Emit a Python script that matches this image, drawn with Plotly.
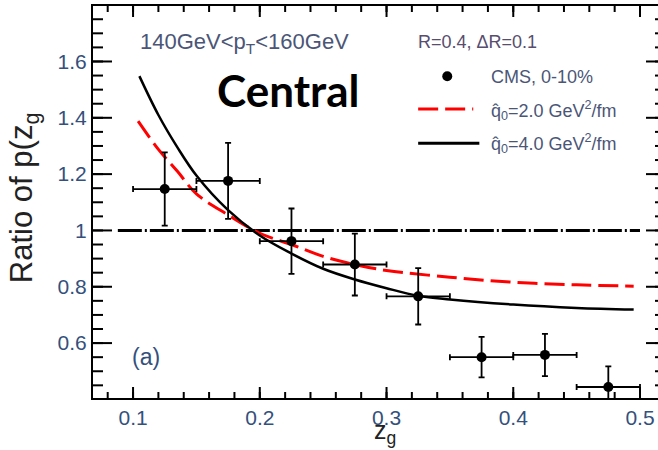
import plotly.graph_objects as go

# CMS measurement, 0-10% centrality
zg_bins = [0.125, 0.175, 0.225, 0.275, 0.325, 0.375, 0.425, 0.475]
ratio_cms = [1.147, 1.176, 0.962, 0.879, 0.766, 0.550, 0.558, 0.444]
ratio_err = [0.130, 0.135, 0.116, 0.110, 0.100, 0.072, 0.075, 0.073]
bin_halfwidth = [0.025] * 8

# model curves
zg_q2 = [0.104, 0.12, 0.135, 0.15, 0.175, 0.2, 0.225, 0.25, 0.275, 0.3, 0.35, 0.4, 0.45, 0.495]
ratio_q2 = [1.388, 1.288, 1.21, 1.13, 1.055, 0.99, 0.95, 0.908, 0.879, 0.858, 0.834, 0.816, 0.807, 0.802]
zg_q4 = [0.105, 0.12, 0.135, 0.15, 0.175, 0.2, 0.225, 0.25, 0.275, 0.3, 0.325, 0.35, 0.4, 0.45, 0.495]
ratio_q4 = [1.548, 1.41, 1.295, 1.195, 1.072, 0.982, 0.918, 0.864, 0.826, 0.795, 0.768, 0.755, 0.737, 0.725, 0.719]

# unity reference
ref_x = [0.088, 0.5]
ref_y = [1.0, 1.0]

# axis ticks
x_major = [0.1, 0.2, 0.3, 0.4, 0.5]
x_minor = [round(0.08 + 0.02 * i, 2) for i in range(22)]
y_major = [0.6, 0.8, 1.0, 1.2, 1.4, 1.6]
y_minor = [round(0.45 + 0.05 * i, 2) for i in range(27)]

X_RANGE = [0.0684, 0.5142]
Y_RANGE = [0.405, 1.797]
PLOT_W, PLOT_H = 565, 392
LABEL = "#34507c"
TEXT = "#4b5677"

fig = go.Figure()

fig.add_trace(go.Scatter(
    x=ref_x, y=ref_y, mode="lines",
    line=dict(color="black", width=3, dash="24px,3px,2px,3px"),
    showlegend=False, hoverinfo="skip"))

fig.add_trace(go.Scatter(
    x=zg_q2, y=ratio_q2, mode="lines", line_shape="spline",
    line=dict(color="#ff0000", width=3, dash="20px,7px"),
    showlegend=False))

fig.add_trace(go.Scatter(
    x=zg_q4, y=ratio_q4, mode="lines", line_shape="spline",
    line=dict(color="black", width=2.5),
    showlegend=False))

fig.add_trace(go.Scatter(
    x=zg_bins, y=ratio_cms, mode="markers",
    marker=dict(color="black", size=10),
    error_y=dict(type="data", array=ratio_err, color="black", thickness=1.8, width=3),
    error_x=dict(type="data", array=bin_halfwidth, color="black", thickness=1.8, width=3),
    showlegend=False))

fig.update_layout(
    width=658, height=450,
    margin=dict(l=93, r=0, t=6, b=52),
    paper_bgcolor="white", plot_bgcolor="white",
    font=dict(family="Liberation Sans, Arial, sans-serif", color=LABEL),
    xaxis=dict(
        range=X_RANGE, tickvals=x_major, ticktext=[f"{v:g}" for v in x_major],
        showgrid=False, zeroline=False, ticks="",
        showline=True, linecolor="black", linewidth=2, mirror=True,
        tickfont=dict(size=21, color=LABEL),
    ),
    yaxis=dict(
        range=Y_RANGE, tickvals=y_major, ticktext=[f"{v:g}" for v in y_major],
        showgrid=False, zeroline=False, ticks="",
        showline=True, linecolor="black", linewidth=2,
        tickfont=dict(size=21, color=LABEL),
    ),
)

# tick marks drawn inward from the frame (bottom/top and left/right)
tick_line = dict(color="black", width=2)


def x_tick(v, length):
    h = length / PLOT_H
    fig.add_shape(type="line", xref="x", yref="paper", x0=v, x1=v, y0=0, y1=h, line=tick_line)
    fig.add_shape(type="line", xref="x", yref="paper", x0=v, x1=v, y0=1 - h, y1=1, line=tick_line)


def y_tick(v, left_len, right_len):
    fig.add_shape(type="line", xref="paper", yref="y", x0=0, x1=left_len / PLOT_W,
                  y0=v, y1=v, line=tick_line)
    fig.add_shape(type="line", xref="paper", yref="y", x0=1 - right_len / PLOT_W, x1=1,
                  y0=v, y1=v, line=tick_line)


for v in x_minor:
    x_tick(v, 6)
for v in x_major:
    x_tick(v, 11)
for v in y_minor:
    y_tick(v, 10, 3)
for v in y_major:
    y_tick(v, 19, 12)

ann = []
ann.append(dict(text="Ratio of p(z<sub>g</sub>", x=-0.121, y=0.5115, xref="paper", yref="paper",
                textangle=-90, showarrow=False, font=dict(size=31, color="#222222"),
                xanchor="center", yanchor="middle"))
ann.append(dict(text="z<sub>g</sub>", x=0.517, y=-0.088, xref="paper", yref="paper",
                showarrow=False, font=dict(size=25, color="#222222"),
                xanchor="center", yanchor="middle"))
ann.append(dict(text="140GeV&lt;p<sub>T</sub>&lt;160GeV", x=0.080, y=0.905, xref="paper", yref="paper",
                showarrow=False, font=dict(size=22, color=TEXT), xanchor="left", yanchor="middle"))
ann.append(dict(text="R=0.4, ΔR=0.1", x=0.572, y=0.908, xref="paper", yref="paper",
                showarrow=False, font=dict(size=18, color="#574d6e"), xanchor="left", yanchor="middle"))
ann.append(dict(text="<b>Central</b>", x=0.346, y=0.786, xref="paper", yref="paper",
                showarrow=False, font=dict(size=44, color="black", family="Lato, sans-serif"),
                xanchor="center", yanchor="middle"))
ann.append(dict(text="(a)", x=0.094, y=0.105, xref="paper", yref="paper",
                showarrow=False, font=dict(size=23, color=LABEL), xanchor="center", yanchor="middle"))

# legend entries
ann.append(dict(text="CMS, 0-10%", x=0.7016, y=0.819, xref="paper", yref="paper",
                showarrow=False, font=dict(size=18, color=TEXT), xanchor="left", yanchor="middle"))
ann.append(dict(text="q̂<sub>0</sub>=2.0 GeV<sup>2</sup>/fm", x=0.7016, y=0.733, xref="paper", yref="paper",
                showarrow=False, font=dict(size=18, color=TEXT), xanchor="left", yanchor="middle"))
ann.append(dict(text="q̂<sub>0</sub>=4.0 GeV<sup>2</sup>/fm", x=0.7016, y=0.648, xref="paper", yref="paper",
                showarrow=False, font=dict(size=18, color=TEXT), xanchor="left", yanchor="middle"))
fig.update_layout(annotations=ann)

fig.add_shape(type="circle", xref="paper", yref="paper",
              x0=0.627 - 5 / PLOT_W, x1=0.627 + 5 / PLOT_W, y0=0.821 - 5 / PLOT_H, y1=0.821 + 5 / PLOT_H,
              fillcolor="black", line=dict(color="black", width=0))
fig.add_shape(type="line", xref="paper", yref="paper", x0=0.5755, x1=0.673, y0=0.737, y1=0.737,
              line=dict(color="#ff0000", width=3, dash="20px,7px"))
fig.add_shape(type="line", xref="paper", yref="paper", x0=0.5755, x1=0.6838, y0=0.650, y1=0.650,
              line=dict(color="black", width=3))

fig.write_html("out.html")
